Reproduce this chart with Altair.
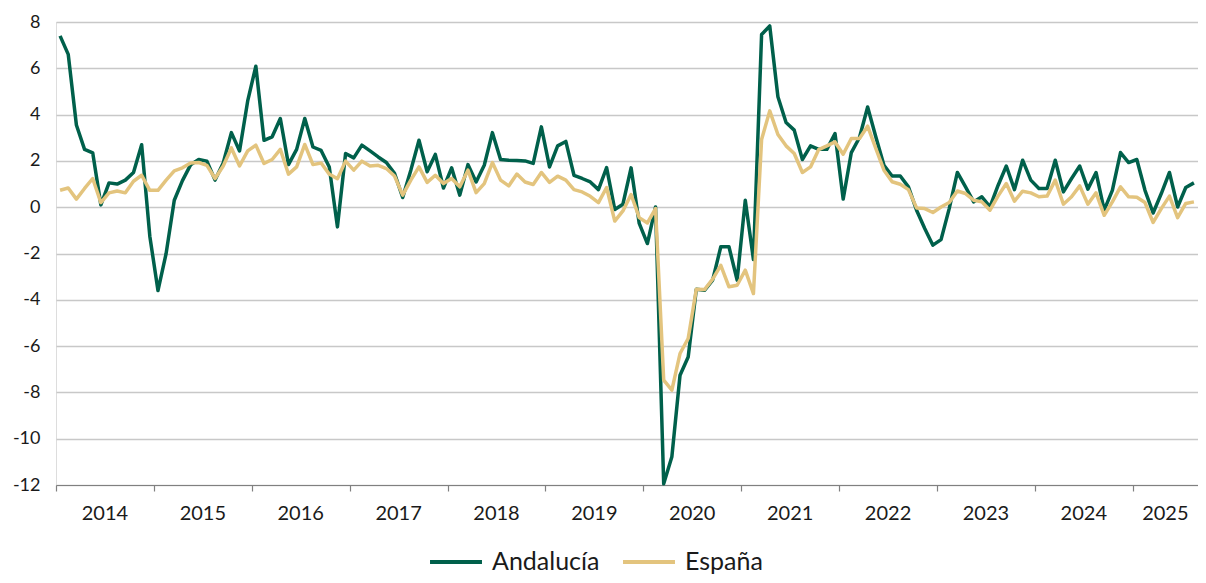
import altair as alt
import pandas as pd

# Monthly series, Jan 2014 .. Aug 2025
start_year = 2014
andalucia = [
    7.4, 6.6, 3.55, 2.5, 2.35, 0.1, 1.05, 1.0, 1.17, 1.5, 2.7, -1.25,
    -3.6, -2.0, 0.3, 1.15, 1.83, 2.06, 1.99, 1.17, 1.91, 3.22, 2.43, 4.59,
    6.09, 2.89, 3.04, 3.83, 1.84, 2.5, 3.83, 2.6, 2.45, 1.74, -0.85, 2.32,
    2.13, 2.68, 2.43, 2.17, 1.93, 1.46, 0.42, 1.6, 2.89, 1.53, 2.28, 0.83,
    1.70, 0.52, 1.84, 1.09, 1.81, 3.22, 2.06, 2.03, 2.02, 2.0, 1.89, 3.47,
    1.74, 2.65, 2.84, 1.38, 1.24, 1.09, 0.76, 1.71, -0.1, 0.13, 1.70, -0.7,
    -1.57, 0.01, -11.95, -10.78, -7.26, -6.47, -3.54, -3.59, -3.15, -1.71, -1.71, -3.15,
    0.30, -2.26, 7.46, 7.83, 4.77, 3.66, 3.33, 2.06, 2.65, 2.5, 2.5, 3.18,
    0.35, 2.36, 3.01, 4.33, 3.04, 1.81, 1.35, 1.35, 0.88, -0.13, -0.92, -1.64,
    -1.40, -0.06, 1.5, 0.88, 0.23, 0.45, 0.01, 0.95, 1.78, 0.76, 2.03, 1.17,
    0.81, 0.81, 2.03, 0.66, 1.24, 1.78, 0.78, 1.5, -0.13, 0.73, 2.36, 1.93,
    2.06, 0.73, -0.25, 0.59, 1.5, 0.01, 0.85, 1.05,
]
espana = [
    0.73, 0.83, 0.35, 0.81, 1.24, 0.2, 0.62, 0.70, 0.62, 1.12, 1.38, 0.73,
    0.73, 1.17, 1.57, 1.70, 1.91, 1.93, 1.81, 1.24, 1.78, 2.56, 1.78, 2.43,
    2.68, 1.89, 2.06, 2.5, 1.43, 1.74, 2.71, 1.84, 1.91, 1.43, 1.23, 1.99,
    1.6, 1.99, 1.78, 1.81, 1.67, 1.35, 0.52, 1.17, 1.74, 1.07, 1.38, 1.02,
    1.24, 0.88, 1.6, 0.63, 1.02, 1.93, 1.17, 0.92, 1.43, 1.09, 0.98, 1.5,
    1.07, 1.34, 1.17, 0.76, 0.66, 0.47, 0.2, 0.85, -0.6, -0.16, 0.55, -0.45,
    -0.68, -0.06, -7.47, -7.9, -6.32, -5.67, -3.54, -3.56, -3.11, -2.51, -3.44, -3.37,
    -2.72, -3.73, 2.92, 4.16, 3.14, 2.65, 2.32, 1.5, 1.74, 2.49, 2.65, 2.82,
    2.29, 2.97, 2.97, 3.5, 2.54, 1.6, 1.1, 0.99, 0.76, -0.03, -0.06, -0.23,
    0.01, 0.2, 0.7, 0.59, 0.3, 0.23, -0.13, 0.49, 1.02, 0.26, 0.69, 0.62,
    0.45, 0.48, 1.17, 0.13, 0.45, 0.92, 0.13, 0.62, -0.35, 0.23, 0.88, 0.45,
    0.43, 0.2, -0.66, -0.06, 0.48, -0.45, 0.16, 0.23,
]
series_names = ["Andalucía", "España"]
series_colors = ["#00604B", "#E3C47E"]
y_ticks = list(range(-12, 9, 2))

n = len(andalucia)
rows = []
for i in range(n):
    rows.append({"t": i + 0.5, "serie": series_names[0], "valor": andalucia[i]})
    rows.append({"t": i + 0.5, "serie": series_names[1], "valor": espana[i]})
df = pd.DataFrame(rows)

years = sorted(set(start_year + i // 12 for i in range(n)))
year_rows = []
for y in years:
    idx = [i for i in range(n) if start_year + i // 12 == y]
    year_rows.append({"year": str(y), "pos": (min(idx) + max(idx) + 1) / 2})
ydf = pd.DataFrame(year_rows)
year_starts = [(y - start_year) * 12 for y in years]

FONT = "Lato"
xscale = alt.Scale(domain=[0, n], nice=False, zero=False)
yscale = alt.Scale(domain=[-12, 8], nice=False, zero=False)
cscale = alt.Scale(domain=series_names, range=series_colors)

xaxis = alt.Axis(values=year_starts, labels=False, grid=False, title=None,
                 domainColor="#808080", tickColor="#808080", tickSize=6,
                 domainWidth=1.2, tickWidth=1.2)
yaxis = alt.Axis(values=y_ticks, title=None, domain=False, ticks=False,
                 grid=True, gridColor="#C8C8C8", gridWidth=1.3,
                 labelFont=FONT, labelFontSize=18, labelColor="#1a1a1a",
                 labelPadding=16, labelExpr="'' + datum.value")

legend = alt.Legend(title=None, orient="none", legendX=372, legendY=512,
                    direction="horizontal", symbolType="stroke",
                    symbolSize=2700, symbolStrokeWidth=4,
                    labelFont=FONT, labelFontSize=25, labelColor="#1a1a1a",
                    labelOffset=8, columnPadding=15)

def line_for(name):
    return alt.Chart(df).transform_filter(
        alt.datum.serie == name
    ).mark_line(strokeWidth=3.5, strokeJoin="round").encode(
        x=alt.X("t:Q", scale=xscale, axis=xaxis),
        y=alt.Y("valor:Q", scale=yscale, axis=yaxis),
        color=alt.Color("serie:N", scale=cscale, legend=legend),
    )

labels = alt.Chart(ydf).mark_text(font=FONT, fontSize=20, color="#1a1a1a",
                                   baseline="middle", align="center").encode(
    x=alt.X("pos:Q", scale=xscale),
    y=alt.value(492),
    text="year:N",
)

chart = alt.layer(line_for(series_names[0]), line_for(series_names[1]), labels).properties(
    width=1142, height=463,
    padding={"left": 48, "top": 14, "right": 0, "bottom": 90},
    autosize=alt.AutoSizeParams(type="none"),
).configure_view(stroke=None).configure(background="white")

chart.save("out.html", embed_options={"renderer": "svg", "actions": False})
